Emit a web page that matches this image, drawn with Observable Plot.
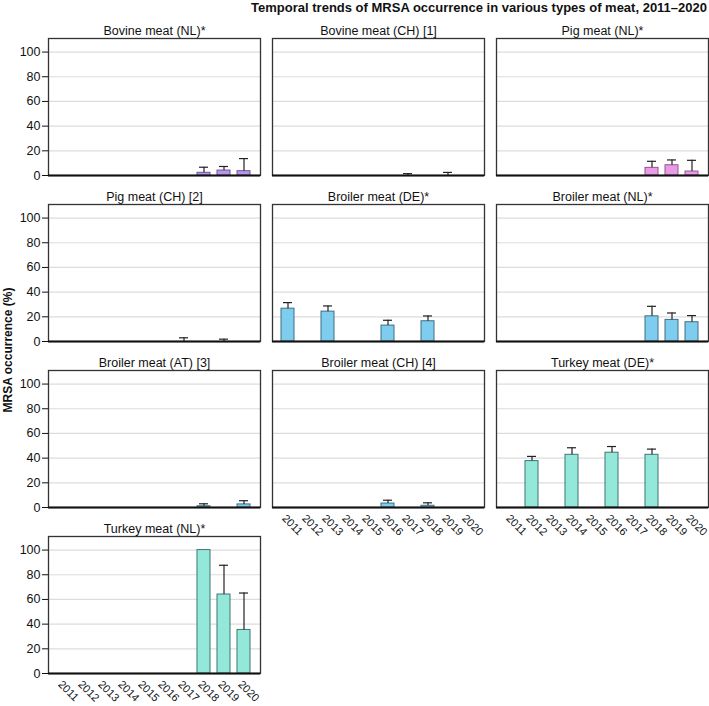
<!DOCTYPE html>
<html><head><meta charset="utf-8">
<script src="https://cdn.jsdelivr.net/npm/d3@7"></script>
<script src="https://cdn.jsdelivr.net/npm/@observablehq/plot@0.6"></script>
<style>
body{margin:0;background:#fff;font-family:"Liberation Sans",Arial,sans-serif;}
#wrap{position:relative;width:709px;height:706px;overflow:hidden;}
#chart{position:absolute;left:0;top:0;}
#title{position:absolute;right:2px;top:0px;font-weight:bold;font-size:13px;line-height:15px;color:#111;z-index:2;}
#ylab{position:absolute;left:8px;top:350px;transform:translate(-50%,-50%) rotate(-90deg);font-weight:bold;font-size:12px;white-space:nowrap;color:#111;z-index:2;}
</style></head><body>
<div id="wrap">
  <div id="chart"></div>
  <div id="title">Temporal trends of MRSA occurrence in various types of meat, 2011–2020</div>
  <div id="ylab">MRSA occurrence (%)</div>
</div>
<script>
const years = ["2011","2012","2013","2014","2015","2016","2017","2018","2019","2020"];
const panelTitles = [
  "Bovine meat (NL)*","Bovine meat (CH) [1]","Pig meat (NL)*",
  "Pig meat (CH) [2]","Broiler meat (DE)*","Broiler meat (NL)*",
  "Broiler meat (AT) [3]","Broiler meat (CH) [4]","Turkey meat (DE)*",
  "Turkey meat (NL)*"
];
const panelMeat = ["Bovine","Bovine","Pig","Pig","Broiler","Broiler","Broiler","Broiler","Turkey","Turkey"];
const meatFill = {Bovine:"#b796e6", Pig:"#e89ce6", Broiler:"#7fcdee", Turkey:"#93e8da"};
const meatStroke = {Bovine:"#6e53a0", Pig:"#9a5096", Broiler:"#3f6f82", Turkey:"#3f7770"};

const obsPanel = [0,0,0, 1,1, 2,2,2, 3,3, 4,4,4,4, 5,5,5, 6,6, 7,7, 8,8,8,8, 9,9,9];
const obsYear = ["2018","2019","2020", "2017","2019", "2018","2019","2020", "2017","2019",
  "2011","2013","2016","2018", "2018","2019","2020", "2018","2020", "2016","2018",
  "2012","2014","2016","2018", "2018","2019","2020"];
const obsValue = [2.2,4,3.5, 0,0, 6.2,8.3,3.2, 0,0, 26.6,24.2,12.9,16.4, 20.4,17.5,15.6,
  1,2.5, 3.2,1.4, 37.6,42.7,44.4,42.7, 100,64,35.3];
const obsUpper = [6.7,7.3,13.7, 1.5,2.5, 11.5,12.6,12.3, 3,1.9, 31.5,28.8,17.2,20.7, 28.5,23.1,21,
  3,5.5, 5.9,3.8, 41.4,48.4,49.4,47.3, null,87.7,65.2];

const rows = obsPanel.map((p, i) => ({
  panel: p, col: p % 3, row: Math.floor(p / 3), meat: panelMeat[p],
  year: obsYear[i], value: obsValue[i], upper: obsUpper[i]
}));
const errRows = rows.filter(d => d.upper != null);
const panels = panelTitles.map((t, p) => ({title: t, col: p % 3, row: Math.floor(p / 3)}));

const chart = Plot.plot({
  width: 709, height: 706,
  marginTop: 37, marginBottom: 31, marginLeft: 48, marginRight: 1,
  style: {fontFamily: "Liberation Sans, Arial, sans-serif", fontSize: "12px", background: "transparent", color: "#111"},
  fx: {domain: [0,1,2], paddingInner: 0.0536, paddingOuter: 0, axis: null},
  fy: {domain: [0,1,2,3], paddingInner: 0.172, paddingOuter: 0, axis: null},
  x: {domain: years, paddingInner: 0.33, paddingOuter: 0.465},
  y: {domain: [0, 111]},
  color: {type: "identity"},
  marks: [
    Plot.gridY({ticks: [20,40,60,80,100], stroke: "#dcdcdc", strokeOpacity: 1, strokeWidth: 1.2}),
    Plot.frame({stroke: "#333", strokeWidth: 1.3}),
    Plot.barY(rows, {fx: "col", fy: "row", x: "year", y: "value",
      fill: d => meatFill[d.meat], stroke: d => meatStroke[d.meat], strokeWidth: 1}),
    Plot.ruleX(errRows, {fx: "col", fy: "row", x: "year", y1: "value", y2: "upper", stroke: "#222", strokeWidth: 1.2}),
    Plot.tickY(errRows, {fx: "col", fy: "row", x: "year", y: "upper", insetLeft: 2, insetRight: 2, stroke: "#222", strokeWidth: 1.2}),
    Plot.ruleY([0], {stroke: "#111", strokeWidth: 1.8}),
    Plot.axisY({ticks: [0,20,40,60,80,100], tickSize: 6, tickPadding: 2, label: null, fontSize: 12.5}),
    Plot.axisX({tickRotate: 45, tickSize: 0, tickPadding: 9, dx: -4, label: null, fontSize: 11}),
    Plot.text(panels, {fx: "col", fy: "row", text: "title", frameAnchor: "top", lineAnchor: "bottom", dy: -4, fontSize: 12.5})
  ]
});
document.getElementById("chart").appendChild(chart);
</script>
</body></html>
